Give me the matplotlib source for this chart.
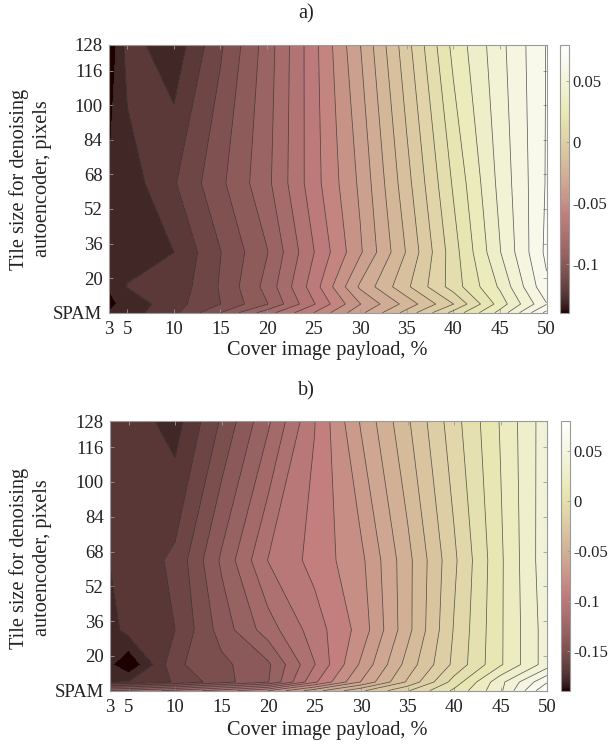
import numpy as np
import matplotlib
matplotlib.use("Agg")
import matplotlib.pyplot as plt
from matplotlib.cm import ScalarMappable
from matplotlib.colors import Normalize

plt.rcParams['font.family'] = ['Liberation Serif', 'DejaVu Serif']

payload = [3, 5, 10, 15, 20, 25, 30, 35, 40, 45, 50]
tile_grid = [4, 8, 16, 32, 64, 128]   # 4 is the SPAM row

z_a = [
    [-.1312, -.1270, -.1167, -.0977, -.0761, -.0554, -.0322, -.0099, .0150, .0405, .0740],
    [-.1337, -.1287, -.1180, -.1062, -.0897, -.0647, -.0387, -.0183, .0037, .0330, .0626],
    [-.1311, -.1227, -.1205, -.1053, -.0863, -.0596, -.0285, -.0063, .0162, .0390, .0698],
    [-.1290, -.1265, -.1231, -.1064, -.0897, -.0642, -.0397, -.0123, .0171, .0457, .0736],
    [-.1315, -.1277, -.1155, -.0996, -.0830, -.0590, -.0368, -.0076, .0219, .0487, .0723],
    [-.1396, -.1193, -.1288, -.1074, -.0853, -.0583, -.0302, .0008, .0317, .0520, .0719],
]
z_b = [
    [-.1200, -.1170, -.1070, -.0950, -.0800, -.0540, -.0320, -.0110, .0120, .0380, .0800],
    [-.1702, -.1698, -.1590, -.1440, -.1306, -.0920, -.0595, -.0285, .0040, .0370, .0690],
    [-.1781, -.1900, -.1520, -.1426, -.1318, -.1004, -.0683, -.0360, -.0076, .0187, .0450],
    [-.1750, -.1655, -.1600, -.1357, -.1148, -.0950, -.0761, -.0432, -.0093, .0186, .0450],
    [-.1695, -.1670, -.1578, -.1283, -.0997, -.0865, -.0724, -.0432, -.0120, .0183, .0470],
    [-.1630, -.1642, -.1744, -.1486, -.1218, -.0904, -.0588, -.0315, -.0040, .0208, .0460],
]

x_ticks = [3, 5, 10, 15, 20, 25, 30, 35, 40, 45, 50]
y_ticks = [4, 20, 36, 52, 68, 84, 100, 116, 128]
y_labels = ['SPAM', '20', '36', '52', '68', '84', '100', '116', '128']

panels = [
    dict(z=z_a, title='a)', vmin=-0.14, vmax=0.08, n=27,
         box=(108.7, 44.7, 546.5, 312.7), cbx=(560, 569),
         cticks=[-0.1, -0.05, 0, 0.05], clabels=['-0.1', '-0.05', '0', '0.05'],
         title_y=14, xlab_y=350, ylab_y=179),
    dict(z=z_b, title='b)', vmin=-0.19, vmax=0.08, n=28,
         box=(110, 421, 547, 690.7), cbx=(561, 570),
         cticks=[-0.15, -0.1, -0.05, 0, 0.05], clabels=['-0.15', '-0.1', '-0.05', '0', '0.05'],
         title_y=391, xlab_y=730, ylab_y=558),
]

W, H = 608, 744
fig = plt.figure(figsize=(W / 100, H / 100), dpi=100)
FRAME = '#9a9a9a'
TICK_FS = 13.5
LAB_FS = 14.6

for p in panels:
    l, t, r, b = p['box']
    ax = fig.add_axes([l / W, 1 - b / H, (r - l) / W, (b - t) / H])
    levels = np.linspace(p['vmin'], p['vmax'], p['n'])
    norm = Normalize(p['vmin'], p['vmax'])
    cmap = plt.get_cmap('pink')
    band_colors = [cmap(norm(v)) for v in levels[:-1]]
    ax.contourf(payload, tile_grid, np.array(p['z']), levels=levels, colors=band_colors)
    ax.contour(payload, tile_grid, np.array(p['z']), levels=levels[1:-1],
               colors='#2a2a2a', linewidths=0.55, alpha=0.75, linestyles='solid')
    ax.set_xlim(3, 50)
    ax.set_ylim(4, 128)
    ax.set_xticks(x_ticks)
    ax.set_yticks(y_ticks)
    ax.set_yticklabels(y_labels)
    ax.tick_params(direction='in', top=True, right=True, length=3, width=0.6,
                   color=FRAME, labelsize=TICK_FS, labelcolor='#222222')
    ax.tick_params(axis='x', pad=6)
    ax.tick_params(axis='y', pad=4.5)
    for s in ax.spines.values():
        s.set_color(FRAME)
        s.set_linewidth(0.8)

    c0, c1 = p['cbx']
    cax = fig.add_axes([c0 / W, 1 - b / H, (c1 - c0) / W, (b - t) / H])
    cb = fig.colorbar(ScalarMappable(norm=norm, cmap=cmap), cax=cax)
    cb.set_ticks(p['cticks'])
    cb.set_ticklabels(p['clabels'])
    cb.ax.tick_params(direction='in', length=2.5, width=0.6, color=FRAME,
                      labelsize=12, labelcolor='#222222', pad=2.5)
    cb.outline.set_edgecolor(FRAME)
    cb.outline.set_linewidth(0.8)

    fig.text(306 / W, 1 - p['title_y'] / H, p['title'], ha='center', va='center',
             fontsize=LAB_FS, color='#222222')
    fig.text(327 / W, 1 - p['xlab_y'] / H, 'Cover image payload, %', ha='center', va='center',
             fontsize=LAB_FS, color='#222222')
    fig.text(30.5 / W, 1 - p['ylab_y'] / H, 'Tile size for denoising\nautoencoder, pixels',
             rotation=90, ha='center', va='center', multialignment='center',
             fontsize=LAB_FS, color='#222222', linespacing=1.35)

fig.savefig('out.png', dpi=100)
